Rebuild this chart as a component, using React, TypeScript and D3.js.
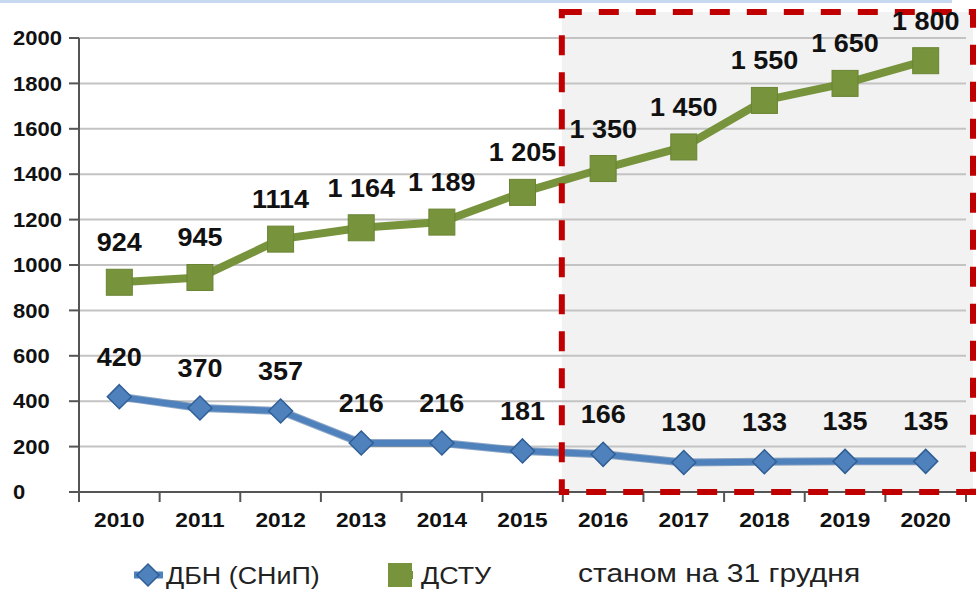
import { useMemo } from 'react'
import { scaleBand, scaleLinear, line } from 'd3'

const W = 978
const H = 599

const years = ['2010', '2011', '2012', '2013', '2014', '2015', '2016', '2017', '2018', '2019', '2020']
// plotted positions of the ДСТУ markers (as drawn in the source chart)
const dstuValues = [924, 945, 1114, 1164, 1189, 1320, 1425, 1520, 1725, 1800, 1900]
// labels as printed above the ДСТУ markers
const dstuLabels = ['924', '945', '1114', '1 164', '1 189', '1 205', '1 350', '1 450', '1 550', '1 650', '1 800']
const dbnValues = [420, 370, 357, 216, 216, 181, 166, 130, 133, 135, 135]
const dbnLabels = ['420', '370', '357', '216', '216', '181', '166', '130', '133', '135', '135']
const yTicks = [0, 200, 400, 600, 800, 1000, 1200, 1400, 1600, 1800, 2000]
const highlightFrom = '2016'

const FONT = '"Liberation Sans", Arial, sans-serif'
const GREEN = '#77933c'
const BLUE = '#4f81bd'
const BLUE_DARK = '#2f5f96'

export default function App() {
  const x = useMemo(() => scaleBand<string>().domain(years).range([79, 966]), [])
  const y = useMemo(() => scaleLinear().domain([0, 2000]).range([492, 38]), [])
  const cx = (d: string) => (x(d) ?? 0) + x.bandwidth() / 2

  const path = line<number>()
    .x((_, i) => cx(years[i]))
    .y((v) => y(v))

  const hx0 = (x(highlightFrom) ?? 0) - 1
  const hx1 = x.range()[1] + 7
  const hy0 = y(2000) - 26
  const hy1 = y(0)

  // source image is slightly stretched horizontally
  const stretch = (px: number, py: number, k: number) => `translate(${px},${py}) scale(${k},1)`

  return (
    <svg
      width={W}
      height={H}
      viewBox={`0 0 ${W} ${H}`}
      style={{ position: 'absolute', left: 0, top: 0, background: '#fff' }}
      fontFamily={FONT}
    >
      <rect x={0} y={0} width={952} height={3} fill="#c6d9f1" />

      {/* highlighted forecast area */}
      <rect x={hx0} y={hy0} width={hx1 - hx0} height={hy1 - hy0} fill="#f2f2f2" />

      {/* gridlines */}
      {yTicks.map((t) =>
        t === 0 ? null : (
          <line key={`g${t}`} x1={79} x2={966} y1={y(t)} y2={y(t)} stroke="#c3c3c3" strokeWidth={2} />
        )
      )}

      {/* y axis */}
      <line x1={79} x2={79} y1={y(2000)} y2={y(0) + 10} stroke="#555" strokeWidth={2} />
      {yTicks.map((t) => (
        <g key={`y${t}`}>
          <line x1={69} x2={79} y1={y(t)} y2={y(t)} stroke="#555" strokeWidth={2} />
          <text transform={stretch(13, y(t), 1.1)} dy="0.36em" fontSize={20} fontWeight="bold" fill="#111">
            {t}
          </text>
        </g>
      ))}

      {/* x axis */}
      <line x1={79} x2={966} y1={y(0)} y2={y(0)} stroke="#555" strokeWidth={2} />
      {[...years.map((d) => x(d) ?? 0), x.range()[1]].map((p, i) => (
        <line key={`xt${i}`} x1={p} x2={p} y1={y(0)} y2={y(0) + 10} stroke="#555" strokeWidth={2} />
      ))}
      {years.map((d) => (
        <text key={`x${d}`} transform={stretch(cx(d), 527, 1.08)} textAnchor="middle" fontSize={21} fontWeight="bold" fill="#111">
          {d}
        </text>
      ))}

      {/* ДБН line */}
      <path d={path(dbnValues) ?? ''} fill="none" stroke={BLUE_DARK} strokeWidth={8} strokeLinejoin="round" opacity={0.55} />
      <path d={path(dbnValues) ?? ''} fill="none" stroke={BLUE} strokeWidth={6} strokeLinejoin="round" />
      {dbnValues.map((v, i) => {
        const px = cx(years[i])
        const py = y(v)
        const r = 12
        return (
          <path
            key={`dm${i}`}
            d={`M${px},${py - r}L${px + r},${py}L${px},${py + r}L${px - r},${py}Z`}
            fill={BLUE}
            stroke={BLUE_DARK}
            strokeWidth={1.5}
          />
        )
      })}

      {/* ДСТУ line */}
      <path d={path(dstuValues) ?? ''} fill="none" stroke={GREEN} strokeWidth={8} strokeLinejoin="round" />
      {dstuValues.map((v, i) => (
        <rect
          key={`sq${i}`}
          x={cx(years[i]) - 13}
          y={y(v) - 13}
          width={26}
          height={26}
          fill={GREEN}
          stroke="#6a8434"
          strokeWidth={1}
        />
      ))}

      {/* dashed frame */}
      <rect
        x={hx0}
        y={hy0}
        width={hx1 - hx0}
        height={hy1 - hy0}
        fill="none"
        stroke="#c00000"
        strokeWidth={6}
        strokeDasharray="20 17"
      />

      {/* data labels */}
      {dstuValues.map((v, i) => (
        <text key={`ls${i}`} transform={stretch(cx(years[i]), y(v) - 40, 1.08)} dy="0.36em" textAnchor="middle" fontSize={25} fontWeight="bold" fill="#111">
          {dstuLabels[i]}
        </text>
      ))}
      {dbnValues.map((v, i) => (
        <text key={`lb${i}`} transform={stretch(cx(years[i]), y(v) - 40, 1.08)} dy="0.36em" textAnchor="middle" fontSize={25} fontWeight="bold" fill="#111">
          {dbnLabels[i]}
        </text>
      ))}

      {/* legend */}
      <g transform="translate(0,575)">
        <line x1={134} x2={163} y1={0} y2={0} stroke={BLUE} strokeWidth={7} />
        <path d="M148,-11L159,0L148,11L137,0Z" fill={BLUE} stroke={BLUE_DARK} strokeWidth={1.5} />
        <text transform={stretch(166, 0, 1.12)} dy="0.36em" fontSize={24} fill="#222">ДБН (СНиП)</text>

        <line x1={388} x2={413} y1={0} y2={0} stroke={GREEN} strokeWidth={8} />
        <rect x={388} y={-12} width={24} height={24} fill={GREEN} />
        <text transform={stretch(421, 0, 1.12)} dy="0.36em" fontSize={24} fill="#222">ДСТУ</text>

        <text transform={stretch(578, -2, 1.2)} dy="0.36em" fontSize={25} fill="#222">станом на 31 грудня</text>
      </g>
    </svg>
  )
}
